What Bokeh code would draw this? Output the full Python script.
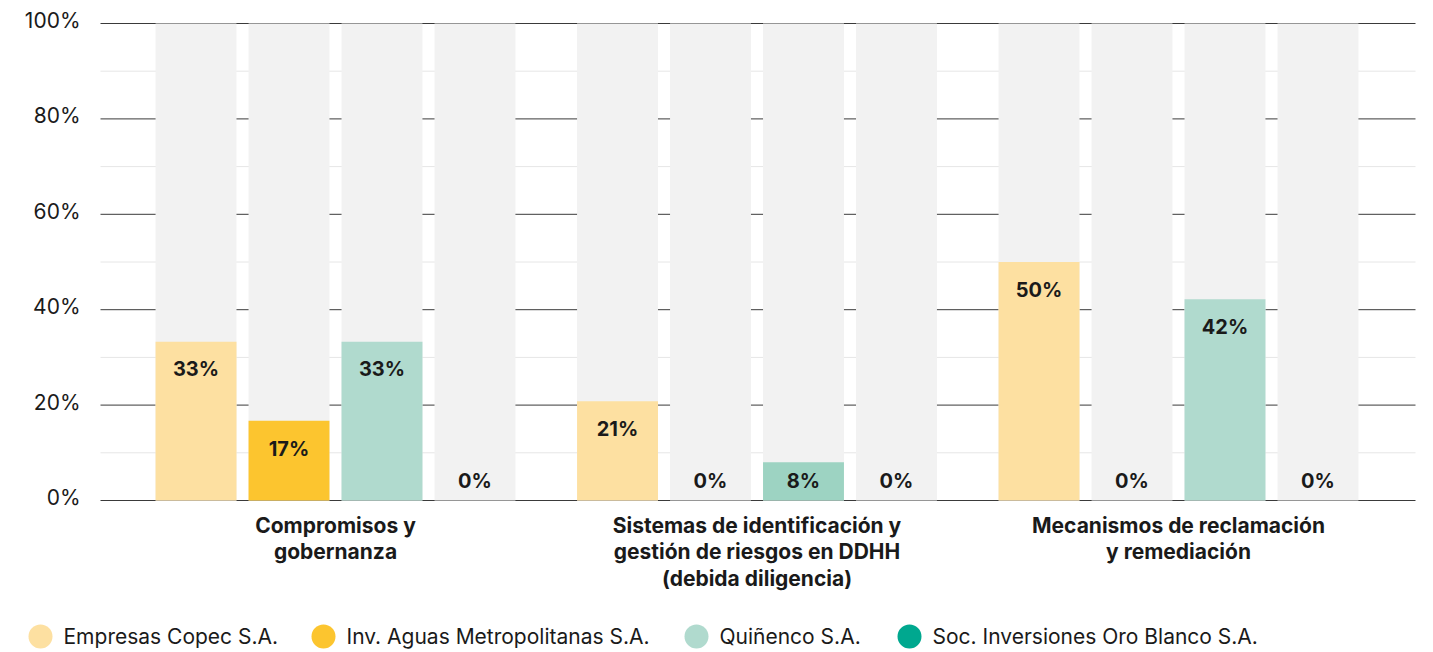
from bokeh.plotting import figure
from bokeh.models import Range1d, ColumnDataSource
from bokeh.core.properties import value
from bokeh.embed import file_html
from bokeh.resources import INLINE

# ---------------- data ----------------
categories = [
    "Compromisos y\ngobernanza",
    "Sistemas de identificación y\ngestión de riesgos en DDHH\n(debida diligencia)",
    "Mecanismos de reclamación\ny remediación",
]
companies = [
    "Empresas Copec S.A.",
    "Inv. Aguas Metropolitanas S.A.",
    "Quiñenco S.A.",
    "Soc. Inversiones Oro Blanco S.A.",
]
copec = [33.3, 20.8, 50.0]
aguas = [16.7, 0.0, 0.0]
quinenco = [33.3, 8.0, 42.2]
oro_blanco = [0.0, 0.0, 0.0]
series = [copec, aguas, quinenco, oro_blanco]

y_ticks = [0, 20, 40, 60, 80, 100]
y_minor_ticks = [10, 30, 50, 70, 90]

colors = ["#fde0a1", "#fcc52f", "#b0dace", "#00a88f"]
highlight = {(2, 1): "#9dd3c2"}  # (series, category) drawn with a slightly darker tone

FONT = "Inter"
TXT = "#1a1a1a"

# ---------------- layout (canvas pixels) ----------------
W, H = 1433, 652
PX_PER_GROUP = 421.5      # horizontal pixels per category
GROUP0_PX = 335           # canvas x of first category centre
PX_PER_PCT = 4.77         # vertical pixels per percentage point
ZERO_PX = 500             # canvas y of 0 %
PLOT_LEFT_PX, PLOT_RIGHT_PX = 100, 1415
LEGEND_PX = [40, 323, 696, 909]
LEGEND_Y_PX = 636


def dx(px):
    return (px - GROUP0_PX) / PX_PER_GROUP


def dy(px):
    return (ZERO_PX - px) / PX_PER_PCT


step = 0.2206
bar_w = 0.192

xs, tops, fills, labels, label_y = [], [], [], [], []
for j, vals in enumerate(series):
    for g, v in enumerate(vals):
        xs.append(g + (j - 1.5) * step)
        tops.append(v)
        fills.append(highlight.get((j, g), colors[j]))
        labels.append(f"{round(v):d}%")
        label_y.append(max(v - 5.8, 4.0))

src = ColumnDataSource(dict(x=xs, top=tops, fill=fills, label=labels, ly=label_y))

p = figure(width=W, height=H, output_backend="svg", toolbar_location=None,
           x_axis_type=None, y_axis_type=None,
           x_range=Range1d(dx(0), dx(W)), y_range=Range1d(dy(H), dy(0)))
p.min_border = 0
p.outline_line_color = None
p.grid.visible = False
p.background_fill_color = "white"

# grid lines (minor light, major dark)
p.segment(x0=dx(PLOT_LEFT_PX), x1=dx(PLOT_RIGHT_PX), y0=y_minor_ticks, y1=y_minor_ticks,
          line_color="#e6e6e6", line_width=1)
p.segment(x0=dx(PLOT_LEFT_PX), x1=dx(PLOT_RIGHT_PX), y0=y_ticks, y1=y_ticks,
          line_color="#3a3a3a", line_width=1)

# y tick labels
p.text(x=dx(80), y=y_ticks, text=[f"{t}%" for t in y_ticks], text_font=value(FONT),
       text_font_size="21px", text_align="right", text_baseline="middle",
       text_color=TXT, y_offset=-3)

# background full bars
p.vbar(x="x", top=100, bottom=0, width=bar_w, source=src, fill_color="#f2f2f2", line_color=None)
# value bars
p.vbar(x="x", top="top", bottom=0, width=bar_w, source=src, fill_color="fill", line_color=None)
# value labels
p.text(x="x", y="ly", text="label", source=src, text_font=value(FONT), text_font_style="bold",
       text_font_size="20px", text_align="center", text_baseline="middle", text_color=TXT)

# category labels
p.text(x=list(range(len(categories))), y=dy(512), text=categories, text_font=value(FONT),
       text_font_style="bold", text_font_size="21px", text_align="center",
       text_baseline="top", text_line_height=1.07, text_color=TXT)

# legend
lsrc = ColumnDataSource(dict(x=[dx(v) for v in LEGEND_PX], tx=[dx(v + 23) for v in LEGEND_PX],
                             y=[dy(LEGEND_Y_PX)] * len(companies), c=colors, name=companies))
p.scatter(x="x", y="y", size=24, marker="circle", source=lsrc, fill_color="c", line_color=None)
p.text(x="tx", y="y", text="name", source=lsrc, text_font=value(FONT), text_font_size="21px",
       text_baseline="middle", text_align="left", text_color=TXT)

open("out.html", "w").write(file_html(p, INLINE))
